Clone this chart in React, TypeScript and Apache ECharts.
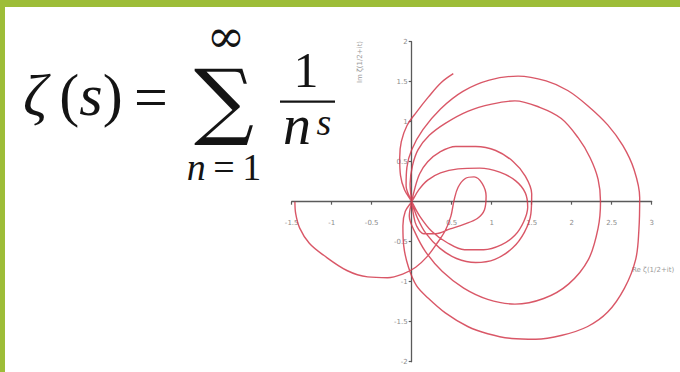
import React, { useEffect, useRef } from "react";
import * as echarts from "echarts";

type Pt = [number, number];

// ζ(1/2 + it) traced on the complex plane, split at the zeros of the critical line.
// t from 0 up to the first zero: the left half-loop and the small inner curl.
const fromStartToFirstZero: Pt[] = [
  [-1.46, 0], [-1.45, -0.15], [-1.4, -0.33], [-1.28, -0.52], [-1.1, -0.67],
  [-0.81, -0.86], [-0.55, -0.94], [-0.3, -0.95], [-0.1, -0.9], [0.05, -0.82],
  [0.19, -0.69], [0.31, -0.53], [0.42, -0.36], [0.49, -0.18], [0.53, 0.02],
  [0.58, 0.18], [0.67, 0.29], [0.78, 0.31], [0.88, 0.23], [0.93, 0.07],
  [0.91, -0.1], [0.82, -0.21], [0.66, -0.28], [0.48, -0.34], [0.3, -0.4],
  [0.15, -0.4], [0.06, -0.3], [0.02, -0.15], [0, 0],
];

// between the 1st and 2nd zeros
const loopZero1to2: Pt[] = [
  [0, 0], [-0.02, 0.22], [0.01, 0.45], [0.08, 0.65], [0.22, 0.83], [0.42, 0.98],
  [0.7, 1.13], [1.0, 1.22], [1.29, 1.26], [1.6, 1.18], [1.87, 1.04], [2.08, 0.8],
  [2.23, 0.55], [2.33, 0.28], [2.36, 0], [2.33, -0.33], [2.21, -0.72], [1.96, -1.03],
  [1.65, -1.21], [1.29, -1.28], [0.95, -1.22], [0.65, -1.08], [0.38, -0.87],
  [0.17, -0.62], [0.04, -0.38], [-0.03, -0.18], [0, 0],
];

// between the 2nd and 3rd zeros
const loopZero2to3: Pt[] = [
  [0, 0], [0.04, 0.17], [0.1, 0.35], [0.2, 0.5], [0.35, 0.62], [0.55, 0.69],
  [0.8, 0.69], [1.05, 0.64], [1.27, 0.5], [1.42, 0.32], [1.5, 0.1], [1.49, -0.15],
  [1.41, -0.38], [1.26, -0.58], [1.04, -0.72], [0.8, -0.76], [0.56, -0.71],
  [0.35, -0.58], [0.18, -0.4], [0.07, -0.2], [0, 0],
];

// between the 3rd and 4th zeros: the widest loop
const loopZero3to4: Pt[] = [
  [0, 0], [-0.07, 0.2], [-0.06, 0.43], [0.0, 0.65], [0.14, 0.9], [0.36, 1.16],
  [0.64, 1.38], [0.97, 1.52], [1.33, 1.57], [1.68, 1.51], [1.95, 1.39], [2.2, 1.2],
  [2.45, 0.96], [2.64, 0.7], [2.78, 0.4], [2.85, 0.05], [2.84, -0.35], [2.8, -0.72],
  [2.66, -1.08], [2.45, -1.38], [2.2, -1.56], [1.88, -1.67], [1.55, -1.72],
  [1.25, -1.71], [0.95, -1.65], [0.7, -1.56], [0.42, -1.39], [0.2, -1.2],
  [0.06, -1.05], [-0.04, -0.82], [-0.1, -0.55], [-0.11, -0.3], [-0.08, -0.12], [0, 0],
];

// between the 4th and 5th zeros
const loopZero4to5: Pt[] = [
  [0, 0], [0.09, 0.15], [0.2, 0.27], [0.36, 0.36], [0.58, 0.41], [0.85, 0.42],
  [1.1, 0.37], [1.3, 0.26], [1.42, 0.11], [1.45, -0.07], [1.4, -0.25], [1.29, -0.42],
  [1.12, -0.54], [0.9, -0.6], [0.66, -0.6], [0.44, -0.51], [0.25, -0.37],
  [0.1, -0.18], [0, 0],
];

// after the 5th zero, up to the end of the plotted range
const arcAfterZero5: Pt[] = [
  [0, 0], [-0.09, 0.15], [-0.14, 0.33], [-0.15, 0.55], [-0.13, 0.75], [-0.06, 0.95],
  [0.06, 1.12], [0.21, 1.31], [0.37, 1.49], [0.52, 1.6],
];

const pieces: Pt[][] = [
  fromStartToFirstZero,
  loopZero1to2,
  loopZero2to3,
  loopZero3to4,
  loopZero4to5,
  arcAfterZero5,
];

// x axis: Re, y axis: Im
const reRange = [-1.5, 3];
const imRange = [-2, 2];
const tickStep = 0.5;

const axisNames = { re: "Re ζ(1/2+it)", im: "Im ζ(1/2+it)" };

const GREEN = "#9dbd38";
const INK = "#141414";
const SERIF = '"Liberation Serif", "DejaVu Serif", serif';
const THIN = "\u2009";

// plot box in pixels
const GRID = { left: 291.7, top: 41.7, width: 360, height: 320 };

function buildPath(): Pt[] {
  const out: Pt[] = [];
  pieces.forEach((p, i) => {
    p.forEach((pt, j) => {
      if (i > 0 && j === 0) return;
      out.push(pt);
    });
  });
  return out;
}

function glyph(x: number, y: number, text: string, font: string, lineHeight: number) {
  return {
    type: "text",
    x,
    y,
    style: { text, font, fill: INK, align: "center", verticalAlign: "middle", lineHeight },
  };
}

export default function App() {
  const ref = useRef<HTMLDivElement>(null);

  useEffect(() => {
    if (!ref.current) return;
    const chart = echarts.init(ref.current, undefined, { renderer: "svg" });

    // axes cross at the origin: shift them from the grid edges onto zero
    const xShift = -(GRID.height * (0 - imRange[0])) / (imRange[1] - imRange[0]);
    const yShift = -(GRID.width * (0 - reRange[0])) / (reRange[1] - reRange[0]);

    const tickLabel = (v: number) => (v === 0 ? "" : String(v));
    const axisLine = { onZero: false, lineStyle: { color: "#5a5a5a", width: 1.3 } };
    const axisTick = { show: true, length: 3, lineStyle: { color: "#5a5a5a", width: 1.2 } };
    const labelStyle = { fontSize: 7, color: "#8c8c8c", fontFamily: "DejaVu Sans" };

    chart.setOption({
      animation: false,
      backgroundColor: "#ffffff",
      grid: { ...GRID, containLabel: false, outerBoundsMode: "none" },
      xAxis: {
        type: "value",
        position: "bottom",
        offset: xShift,
        min: reRange[0],
        max: reRange[1],
        interval: tickStep,
        axisLine,
        axisTick,
        splitLine: { show: false },
        axisLabel: { ...labelStyle, margin: 18, formatter: tickLabel },
      },
      yAxis: {
        type: "value",
        position: "left",
        offset: yShift,
        min: imRange[0],
        max: imRange[1],
        interval: tickStep,
        axisLine,
        axisTick,
        splitLine: { show: false },
        axisLabel: { ...labelStyle, margin: 4, formatter: tickLabel },
      },
      series: [
        {
          type: "line",
          data: buildPath(),
          showSymbol: false,
          smooth: 0.35,
          clip: false,
          z: 3,
          lineStyle: { color: "#d23a4c", width: 1.4, opacity: 0.85 },
        },
      ],
      graphic: [
        // frame
        { type: "rect", shape: { x: 0, y: 0, width: 680, height: 7 }, style: { fill: GREEN }, z: 10 },
        { type: "rect", shape: { x: 0, y: 0, width: 5, height: 372 }, style: { fill: GREEN }, z: 10 },
        // ζ(s) =
        {
          type: "text",
          x: 23,
          y: 95,
          style: {
            text: `{i|ζ}${THIN}({i|s})`,
            font: `60px ${SERIF}`,
            fill: INK,
            align: "left",
            verticalAlign: "middle",
            lineHeight: 62,
            rich: { i: { fontStyle: "italic", fontSize: 60, fontFamily: SERIF, fill: INK, lineHeight: 62 } },
          },
        },
        glyph(151, 97, "=", `60px ${SERIF}`, 40),
        // Σ with its limits
        glyph(224, 100, "∑", `84px "DejaVu Serif"`, 84),
        glyph(226, 36, "∞", `46px "DejaVu Serif"`, 20),
        {
          type: "text",
          x: 224,
          y: 167,
          style: {
            text: `{i|n}${THIN}=${THIN}1`,
            font: `38px ${SERIF}`,
            fill: INK,
            align: "center",
            verticalAlign: "middle",
            lineHeight: 26,
            rich: { i: { fontStyle: "italic", fontSize: 38, fontFamily: SERIF, fill: INK, lineHeight: 26 } },
          },
        },
        // 1 / n^s
        glyph(306, 70, "1", `50px ${SERIF}`, 40),
        { type: "rect", shape: { x: 280, y: 100.5, width: 55, height: 2.2 }, style: { fill: INK } },
        glyph(297, 125, "n", `italic 56px ${SERIF}`, 40),
        glyph(324, 122, "s", `italic 38px ${SERIF}`, 24),
        // axis names
        {
          type: "text",
          x: 360,
          y: 62,
          rotation: Math.PI / 2,
          style: {
            text: axisNames.im,
            font: "7px DejaVu Sans",
            fill: "#9a9a9a",
            align: "center",
            verticalAlign: "middle",
          },
        },
        {
          type: "text",
          x: 632,
          y: 270,
          style: {
            text: axisNames.re,
            font: "7px DejaVu Sans",
            fill: "#9a9a9a",
            align: "left",
            verticalAlign: "middle",
          },
        },
      ],
    });

    return () => chart.dispose();
  }, []);

  return (
    <div
      ref={ref}
      style={{ position: "fixed", left: 0, top: 0, width: 680, height: 372, background: "#fff" }}
    />
  );
}
